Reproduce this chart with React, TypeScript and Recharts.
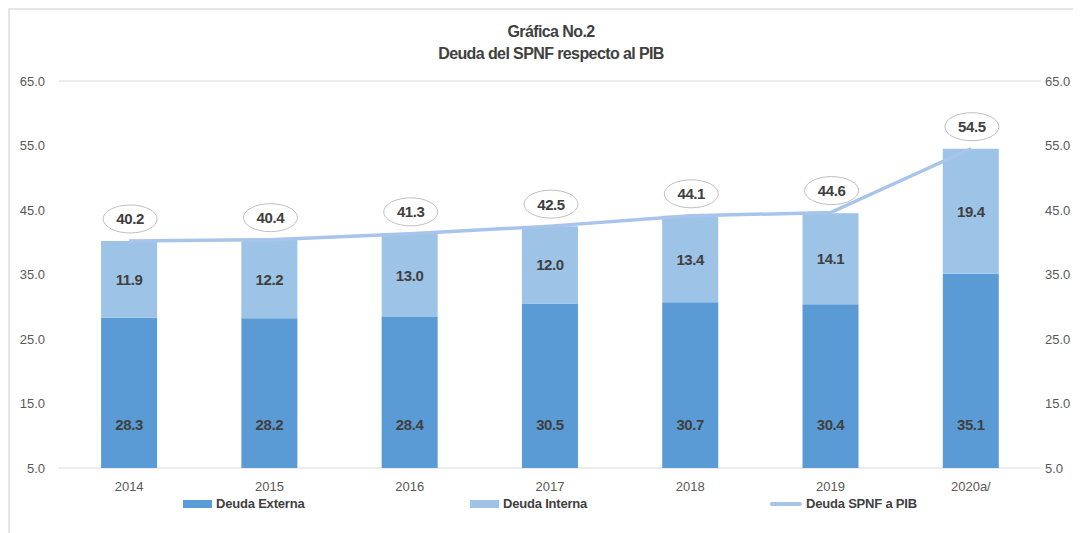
import { ComposedChart, Bar, Line, XAxis, YAxis, CartesianGrid, Legend, LabelList } from "recharts";

const years = ["2014", "2015", "2016", "2017", "2018", "2019", "2020a/"];
const externa = [28.3, 28.2, 28.4, 30.5, 30.7, 30.4, 35.1];
const interna = [11.9, 12.2, 13.0, 12.0, 13.4, 14.1, 19.4];
const spnf = [40.2, 40.4, 41.3, 42.5, 44.1, 44.6, 54.5];
const yTicks = [5, 15, 25, 35, 45, 55, 65];

const data = years.map((year, i) => ({
  year,
  externa: externa[i],
  interna: interna[i],
  spnf: spnf[i],
}));

const FONT = '"Liberation Sans Narrow", "Liberation Sans", Arial, sans-serif';
const TEXT = "#404040";
const C_EXT = "#5b9bd5";
const C_INT = "#9dc3e6";
const C_LINE = "#a9c4eb";

// externa labels sit at a fixed height above the plot bottom, like the source
const ExtLabel = (props: any) => {
  const { x, y, width, height, value } = props;
  return (
    <text x={x + width / 2} y={y + height - 44} textAnchor="middle" dominantBaseline="central"
      fontFamily={FONT} fontWeight={700} fontSize={15} fill={TEXT} letterSpacing={-0.4}>
      {Number(value).toFixed(1)}
    </text>
  );
};

const IntLabel = (props: any) => {
  const { x, y, width, height, value } = props;
  return (
    <text x={x + width / 2} y={y + height / 2} textAnchor="middle" dominantBaseline="central"
      fontFamily={FONT} fontWeight={700} fontSize={15} fill={TEXT} letterSpacing={-0.4}>
      {Number(value).toFixed(1)}
    </text>
  );
};

const BubbleLabel = (props: any) => {
  const { x, y, value } = props;
  const cy = y - 22;
  return (
    <g>
      <ellipse cx={x + 1} cy={cy} rx={27} ry={14} fill="#fff" stroke="#bfbfbf" strokeWidth={1} />
      <text x={x + 1} y={cy} textAnchor="middle" dominantBaseline="central"
        fontFamily={FONT} fontWeight={700} fontSize={15} fill={TEXT} letterSpacing={-0.4}>
        {Number(value).toFixed(1)}
      </text>
    </g>
  );
};

const LegendContent = () => (
  <div style={{ position: "relative", height: 20, fontFamily: FONT, fontWeight: 700, fontSize: 13, color: TEXT, letterSpacing: -0.2 }}>
    <div style={{ position: "absolute", left: 173, top: -2, display: "flex", alignItems: "center" }}>
      <span style={{ width: 29, height: 8, background: C_EXT, marginRight: 4 }} />
      <span>Deuda Externa</span>
    </div>
    <div style={{ position: "absolute", left: 460, top: -2, display: "flex", alignItems: "center" }}>
      <span style={{ width: 29, height: 8, background: C_INT, marginRight: 4 }} />
      <span>Deuda Interna</span>
    </div>
    <div style={{ position: "absolute", left: 760, top: -2, display: "flex", alignItems: "center" }}>
      <span style={{ width: 32, height: 4, borderRadius: 2, background: C_LINE, marginRight: 4 }} />
      <span>Deuda SPNF a PIB</span>
    </div>
  </div>
);

export default function App() {
  const tick = { fontFamily: FONT, fontSize: 13, fill: "#595959" };
  return (
    <div style={{ position: "relative", width: 1073, height: 525, borderTop: "2px solid #e6e6e6", borderLeft: "2px solid #e6e6e6", background: "#fff" }}>
      <div style={{ position: "absolute", left: 0, width: 1082, top: 11, textAlign: "center", fontFamily: FONT, fontWeight: 700, fontSize: 16, color: TEXT, lineHeight: "22px", letterSpacing: -0.6 }}>
        <div>Gráfica No.2</div>
        <div>Deuda del SPNF respecto al PIB</div>
      </div>
      <ComposedChart width={1071} height={518} data={data}
        margin={{ top: 71, right: 0, left: 0, bottom: 10 }} barCategoryGap="30%">
        <CartesianGrid vertical={false} stroke="#d9d9d9" />
        <XAxis dataKey="year" axisLine={false} tickLine={false} tickSize={0} tickMargin={14} height={30} tick={tick} interval={0} />
        <YAxis yAxisId="left" orientation="left" domain={[5, 65]} ticks={yTicks} allowDataOverflow
          axisLine={false} tickLine={false} tickSize={0} tickMargin={14} width={49}
          tick={tick} tickFormatter={(v: number) => v.toFixed(1)} />
        <YAxis yAxisId="right" orientation="right" domain={[5, 65]} ticks={yTicks} allowDataOverflow
          axisLine={false} tickLine={false} tickSize={0} tickMargin={4} width={40}
          tick={{ ...tick, textAnchor: "start" }} tickFormatter={(v: number) => v.toFixed(1)} />
        <Legend verticalAlign="bottom" height={20} wrapperStyle={{ left: 0, width: 1071 }} content={<LegendContent />} />
        <Bar yAxisId="left" dataKey="externa" stackId="a" fill={C_EXT} isAnimationActive={false}>
          <LabelList dataKey="externa" content={<ExtLabel />} />
        </Bar>
        <Bar yAxisId="left" dataKey="interna" stackId="a" fill={C_INT} isAnimationActive={false}>
          <LabelList dataKey="interna" content={<IntLabel />} />
        </Bar>
        <Line yAxisId="left" dataKey="spnf" type="linear" stroke={C_LINE} strokeWidth={3.5} dot={false}
          activeDot={false} isAnimationActive={false}>
          <LabelList dataKey="spnf" content={<BubbleLabel />} />
        </Line>
      </ComposedChart>
    </div>
  );
}
